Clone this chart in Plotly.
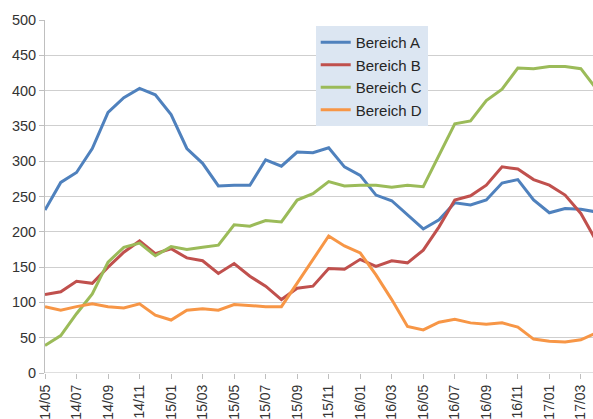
import plotly.graph_objects as go

months = ["14/05","14/06","14/07","14/08","14/09","14/10","14/11","14/12",
          "15/01","15/02","15/03","15/04","15/05","15/06","15/07","15/08",
          "15/09","15/10","15/11","15/12","16/01","16/02","16/03","16/04",
          "16/05","16/06","16/07","16/08","16/09","16/10","16/11","16/12",
          "17/01","17/02","17/03","17/04"]

bereich_a = [231, 270, 284, 318, 369, 390, 403, 394, 366, 318, 297, 265,
             266, 266, 302, 293, 313, 312, 319, 292, 280, 252, 244, 224,
             204, 217, 241, 238, 245, 269, 274, 245, 227, 233, 232, 228]
bereich_b = [111, 115, 130, 127, 150, 171, 187, 169, 176, 163, 159, 141,
             155, 137, 123, 104, 120, 123, 148, 147, 161, 151, 159, 156,
             174, 207, 245, 251, 266, 292, 289, 274, 266, 252, 226, 186]
bereich_c = [39, 53, 84, 112, 157, 178, 184, 166, 179, 175, 178, 181,
             210, 208, 216, 214, 245, 254, 271, 265, 266, 266, 263, 266,
             264, 309, 353, 357, 386, 402, 432, 431, 434, 434, 431, 402]
bereich_d = [94, 89, 94, 98, 94, 92, 98, 82, 75, 89, 91, 89,
             97, 95, 94, 94, 127, 160, 194, 180, 170, 139, 104, 66,
             61, 72, 76, 71, 69, 71, 65, 48, 45, 44, 47, 57]

series = [("Bereich A", bereich_a, "#4F81BD"),
          ("Bereich B", bereich_b, "#C0504D"),
          ("Bereich C", bereich_c, "#9BBB59"),
          ("Bereich D", bereich_d, "#F79646")]

x = list(range(len(months)))

fig = go.Figure()
for name, vals, col in series:
    fig.add_trace(go.Scatter(x=x, y=vals, mode="lines", name=name,
                             line=dict(color=col, width=3)))

tick_idx = x[::2]
fig.update_layout(
    width=593, height=419,
    margin=dict(l=45, r=0, t=20, b=46, autoexpand=False),
    paper_bgcolor="white", plot_bgcolor="white",
    font=dict(family="Liberation Sans, Arial, sans-serif", size=14, color="#333333"),
    showlegend=True,
    legend=dict(x=0.494, y=0.983, xanchor="left", yanchor="top",
                bgcolor="#DCE6F2", borderwidth=0,
                font=dict(size=15, color="#262626"),
                tracegroupgap=0),
    xaxis=dict(range=[0, 34.77], tickvals=tick_idx,
               ticktext=[months[i] for i in tick_idx],
               tickangle=-90, showgrid=False, zeroline=False,
               showline=False, ticks="outside", ticklen=5,
               tickcolor="#BFBFBF", tickfont=dict(size=14),
               automargin=False),
    yaxis=dict(range=[0, 500], dtick=50, showgrid=True, gridcolor="#CFCFCF",
               gridwidth=1, zeroline=False, showline=True, linecolor="#BFBFBF",
               ticks="outside", ticklen=5, tickcolor="#BFBFBF",
               tickfont=dict(size=14.5), automargin=False),
)
fig.add_hline(y=0, line=dict(color="#BFBFBF", width=1))

fig.write_html("out.html",
               config={"displayModeBar": False},
               post_script="document.body.style.margin='0';document.body.style.overflow='hidden';")
